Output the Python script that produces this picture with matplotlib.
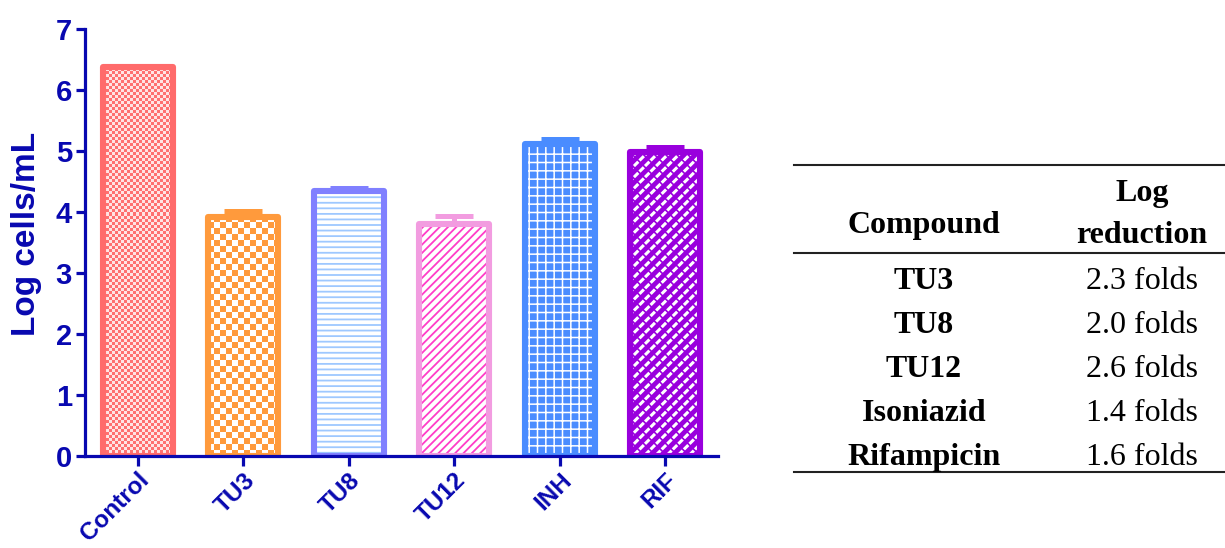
import math
import numpy as np
import matplotlib
matplotlib.use("Agg")
import matplotlib.pyplot as plt
from matplotlib.colors import to_rgb

# ---- data ----
groups = ["Control", "TU3", "TU8", "TU12", "INH", "RIF"]
log_cells = [6.38, 3.91, 4.35, 3.81, 5.12, 4.98]
sem = [0.00, 0.10, 0.05, 0.12, 0.08, 0.08]

table_compounds = ["TU3", "TU8", "TU12", "Isoniazid", "Rifampicin"]
table_reduction = [2.3, 2.0, 2.6, 1.4, 1.6]

# ---- styling ----
axis_blue = "#0808B0"
edge_colors = ["#FF6B6B", "#FF9A3C", "#8080FF", "#F29CE0", "#4A8CFF", "#9900DD"]

plt.rcParams["font.family"] = ["Liberation Sans", "DejaVu Sans"]

fig = plt.figure(figsize=(12.25, 5.48), dpi=100)
ax = fig.add_axes([85 / 1225, 1 - 456 / 548, 633 / 1225, 427 / 548])
ax.set_xlim(-0.5, 5.5)
ax.set_ylim(0, 7)

x = np.arange(len(groups))
width = 0.66

# pixels per data unit (for the checkerboard textures)
p0 = ax.transData.transform((0, 0))
p1 = ax.transData.transform((1, 1))
px_x = p1[0] - p0[0]
px_y = p1[1] - p0[1]


def set_hlw(patch, lw):
    if hasattr(patch, "set_hatch_linewidth"):
        patch.set_hatch_linewidth(lw)


def checker(center, height, cell_px, c_dark, c_light, clip):
    x0 = center - width / 2
    nx = math.ceil(width * px_x / cell_px)
    ny = math.ceil(height * px_y / cell_px)
    ii, jj = np.meshgrid(np.arange(nx), np.arange(ny))
    mask = (ii + jj) % 2 == 0
    img = np.empty((ny, nx, 3))
    img[mask] = to_rgb(c_dark)
    img[~mask] = to_rgb(c_light)
    im = ax.imshow(img, extent=[x0, x0 + nx * cell_px / px_x, 0, ny * cell_px / px_y],
                   origin="lower", interpolation="nearest", aspect="auto", zorder=2)
    im.set_clip_path(clip)


# fill layers with textures
fills = ax.bar(x, log_cells, width=width, color="white", linewidth=0, zorder=1.5)

# Control: fine checkerboard
checker(x[0], log_cells[0], 3.0, "#FF7070", "#FFE4E4", fills[0])
# TU3: coarse checkerboard
checker(x[1], log_cells[1], 6.0, "#FF9A3C", "#FFFFFF", fills[1])

# TU8: light blue horizontal lines
b = ax.bar(x[2], log_cells[2], width=width, facecolor="white", edgecolor="#9EC8FF",
           hatch="---", linewidth=0, zorder=2)[0]
set_hlw(b, 1.3)
# TU12: magenta diagonals
b = ax.bar(x[3], log_cells[3], width=width, facecolor="white", edgecolor="#FF3CC8",
           hatch="////", linewidth=0, zorder=2)[0]
set_hlw(b, 1.3)
# INH: white grid on blue
b = ax.bar(x[4], log_cells[4], width=width, facecolor="#4A8CFF", edgecolor="white",
           hatch="++", linewidth=0, zorder=2)[0]
set_hlw(b, 1.1)
# RIF: white dashes on purple
b = ax.bar(x[5], log_cells[5], width=width, facecolor="#9900DD", edgecolor="white",
           hatch="///", linewidth=0, zorder=2)[0]
set_hlw(b, 2.2)
b = ax.bar(x[5], log_cells[5], width=width, fill=False, edgecolor="#9900DD",
           hatch="\\\\\\", linewidth=0, zorder=2.1)[0]
set_hlw(b, 1.2)

# error bars (upper only)
for xi, v, e, c in zip(x, log_cells, sem, edge_colors):
    if e > 0:
        ax.errorbar(xi, v, yerr=[[0], [e]], fmt="none", ecolor=c, elinewidth=3.6,
                    capsize=13.5, capthick=3.6, zorder=2.5)

# outlines
outl = ax.bar(x, log_cells, width=width, fill=False, edgecolor=edge_colors,
              linewidth=4.4, zorder=3)
for p in outl:
    p.set_joinstyle("round")

# ---- axes styling ----
for s in ["top", "right"]:
    ax.spines[s].set_visible(False)
for s in ["left", "bottom"]:
    ax.spines[s].set_color(axis_blue)
    ax.spines[s].set_linewidth(2.3)
    ax.spines[s].set_zorder(4)
    ax.spines[s].set_capstyle("projecting")

ax.set_yticks(range(0, 8))
ax.tick_params(axis="y", colors=axis_blue, length=6.5, width=2.3, pad=3,
               labelsize=21)
ax.tick_params(axis="x", colors=axis_blue, length=7, width=2.3, pad=2,
               labelsize=17.5)
for lab in ax.get_yticklabels():
    lab.set_fontweight("bold")
ax.set_xticks(x)
ax.set_xticklabels(groups, rotation=45, ha="right", rotation_mode="anchor",
                   fontweight="bold")
ax.set_ylabel("Log cells/mL", color=axis_blue, fontsize=24, fontweight="bold")
ax.yaxis.set_label_coords(-0.068, 0.52)

# ---- table ----
serif = ["Liberation Serif", "DejaVu Serif"]
H = 548.0


def fy(py):
    return 1 - py / H


def fx(px):
    return px / 1225.0


col1, col2 = fx(924), fx(1142)
for py in (165, 253, 472):
    fig.add_artist(plt.Line2D([fx(794), 1.0], [fy(py), fy(py)], color="#222222",
                              linewidth=1.5))

tsize = 23
fig.text(col1, fy(233), "Compound", ha="center", va="baseline", family=serif,
         fontweight="bold", fontsize=tsize)
fig.text(col2, fy(201), "Log", ha="center", va="baseline", family=serif,
         fontweight="bold", fontsize=tsize)
fig.text(col2, fy(243), "reduction", ha="center", va="baseline", family=serif,
         fontweight="bold", fontsize=tsize)

row_base = [289, 333, 377, 421, 465]
for name, red, by in zip(table_compounds, table_reduction, row_base):
    fig.text(col1, fy(by), name, ha="center", va="baseline", family=serif,
             fontweight="bold", fontsize=tsize)
    fig.text(col2, fy(by), f"{red:.1f} folds", ha="center", va="baseline",
             family=serif, fontsize=tsize)

fig.savefig("out.png", dpi=100)
